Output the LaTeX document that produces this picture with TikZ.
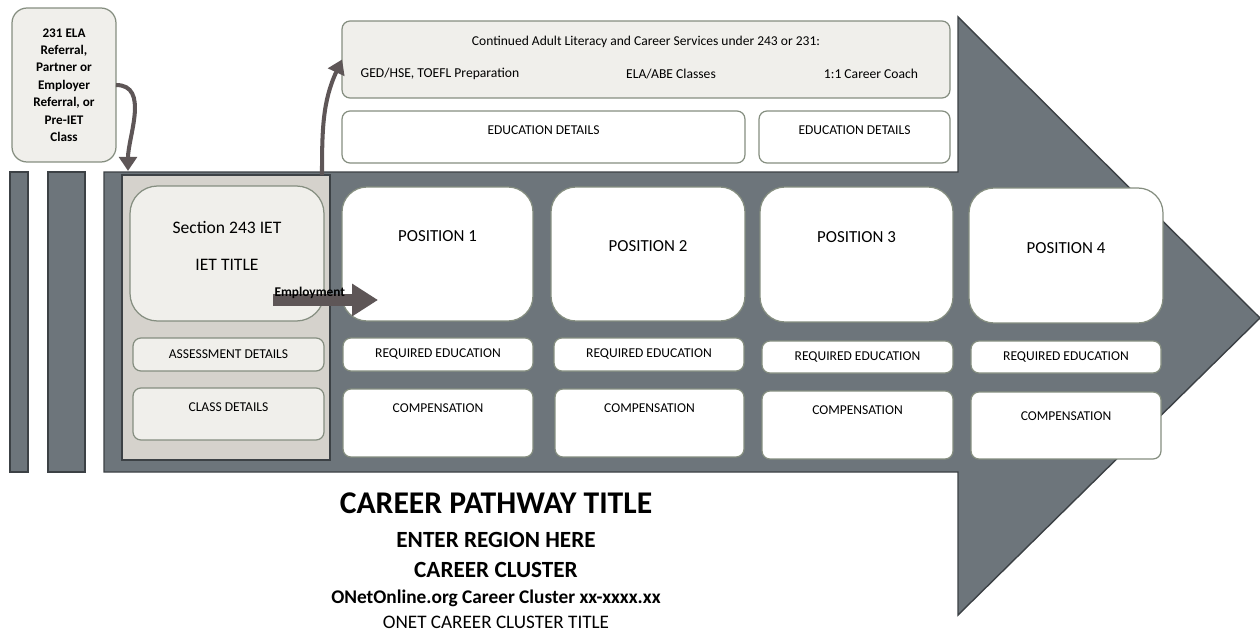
\documentclass[tikz,border=0pt]{standalone}
\usepackage{fontspec}
\setmainfont{Carlito}
\usetikzlibrary{arrows.meta}

\definecolor{arrowgray}{HTML}{6D757B}
\definecolor{arrowline}{HTML}{3C4145}
\definecolor{lightfill}{HTML}{F0EFEB}
\definecolor{boxline}{HTML}{858E80}
\definecolor{ietfill}{HTML}{D5D2CC}
\definecolor{connbrown}{HTML}{5E5657}

\begin{document}
\begin{tikzpicture}[x=0.02cm,y=-0.02cm,
    box/.style={draw=boxline,fill=white,line width=0.7pt,rounded corners=0.16cm,inner sep=0pt,outer sep=0pt},
    greybox/.style={box,fill=lightfill},
    posbox/.style={box,rounded corners=0.5cm},
    lbl/.style={anchor=center,font=\fontsize{7.7}{9}\selectfont},
    poslbl/.style={anchor=center,font=\fontsize{9.6}{11}\selectfont},
    conn/.style={draw=connbrown,line width=2.3pt,-{Triangle[length=8pt,width=10pt]}},
    emparrow/.style={draw=connbrown,line width=6.8pt,-{Triangle[length=0.52cm,width=0.62cm]}}
]

    \useasboundingbox (0,0) rectangle (1260,635);

    % big pathway arrow and the two bars
    \draw[fill=arrowgray,draw=arrowline,line width=0.8pt]
        (104,172) -- (958,172) -- (958,17) -- (1260,318) -- (958,615) -- (958,472) -- (104,472) -- cycle;
    \draw[fill=arrowgray,draw=arrowline,line width=0.8pt] (10,172) rectangle (28,472);
    \draw[fill=arrowgray,draw=arrowline,line width=0.8pt] (48,172) rectangle (85,472);

    % referral box
    \node[greybox,rounded corners=0.3cm,minimum width=2.08cm,minimum height=3.08cm,align=center,
          font=\bfseries\fontsize{7.5}{9.9}\selectfont] (refbox) at (64,85)
          {231 ELA\\Referral,\\Partner or\\Employer\\Referral, or\\Pre-IET\\Class};

    % IET section
    \node[draw=arrowline,fill=ietfill,line width=0.8pt,minimum width=4.16cm,minimum height=5.70cm,inner sep=0pt] (ietsec) at (226,317.5) {};
    \node[greybox,rounded corners=0.55cm,minimum width=3.88cm,minimum height=2.70cm,
          label={[anchor=center,font=\fontsize{10}{12}\selectfont,yshift=-0.82cm]north:Section 243 IET},
          label={[anchor=center,font=\fontsize{10}{12}\selectfont,yshift=-1.58cm]north:IET TITLE}] (ietbox) at (227,253.5) {};
    \node[greybox,minimum width=3.82cm,minimum height=0.66cm,font=\fontsize{7.7}{9}\selectfont] (assess) at (228.5,354.5) {ASSESSMENT DETAILS};
    \node[greybox,minimum width=3.82cm,minimum height=1.04cm,
          label={[lbl,yshift=-0.38cm]north:CLASS DETAILS}] (classd) at (228.5,414) {};

    % continued services
    \node[greybox,minimum width=12.16cm,minimum height=1.54cm,
          label={[lbl,yshift=-0.42cm]north:Continued Adult Literacy and Career Services under 243 or 231:}] (topbox) at (646,59.5) {};
    \node[font=\fontsize{7.75}{9}\selectfont] (ged) at (440,74) {GED/HSE, TOEFL Preparation};
    \node[font=\fontsize{7.75}{9}\selectfont] (elaabe) at (671,74) {ELA/ABE Classes};
    \node[font=\fontsize{7.75}{9}\selectfont] (coach) at (871,74) {1:1 Career Coach};

    \node[box,minimum width=8.06cm,minimum height=1.04cm,label={[lbl,yshift=-0.38cm]north:EDUCATION DETAILS}] (edu1) at (543.5,137) {};
    \node[box,minimum width=3.82cm,minimum height=1.04cm,label={[lbl,yshift=-0.38cm]north:EDUCATION DETAILS}] (edu2) at (854.5,137) {};

    % positions
    \node[posbox,minimum width=3.82cm,minimum height=2.68cm,label={[poslbl,yshift=-0.98cm]north:POSITION 1}] (pos1) at (437.5,254) {};
    \node[posbox,minimum width=3.88cm,minimum height=2.68cm,label={[poslbl,yshift=-1.18cm]north:POSITION 2}] (pos2) at (648,254) {};
    \node[posbox,minimum width=3.86cm,minimum height=2.70cm,label={[poslbl,yshift=-1.00cm]north:POSITION 3}] (pos3) at (856.5,254.5) {};
    \node[posbox,minimum width=3.88cm,minimum height=2.70cm,label={[poslbl,yshift=-1.20cm]north:POSITION 4}] (pos4) at (1066,255.5) {};

    \node[box,minimum width=3.80cm,minimum height=0.66cm,font=\fontsize{7.7}{9}\selectfont] (req1) at (438,354.5) {REQUIRED EDUCATION};
    \node[box,minimum width=3.80cm,minimum height=0.66cm,font=\fontsize{7.7}{9}\selectfont] (req2) at (649,354.5) {REQUIRED EDUCATION};
    \node[box,minimum width=3.82cm,minimum height=0.64cm,font=\fontsize{7.7}{9}\selectfont] (req3) at (857.5,357) {REQUIRED EDUCATION};
    \node[box,minimum width=3.80cm,minimum height=0.64cm,font=\fontsize{7.7}{9}\selectfont] (req4) at (1066,357) {REQUIRED EDUCATION};

    \node[box,minimum width=3.80cm,minimum height=1.36cm,label={[lbl,yshift=-0.38cm]north:COMPENSATION}] (comp1) at (438,423) {};
    \node[box,minimum width=3.78cm,minimum height=1.36cm,label={[lbl,yshift=-0.38cm]north:COMPENSATION}] (comp2) at (649.5,423) {};
    \node[box,minimum width=3.82cm,minimum height=1.36cm,label={[lbl,yshift=-0.38cm]north:COMPENSATION}] (comp3) at (857.5,425) {};
    \node[box,minimum width=3.80cm,minimum height=1.34cm,label={[lbl,yshift=-0.48cm]north:COMPENSATION}] (comp4) at (1066,425.5) {};

    % connectors
    \coordinate (ietin) at (128,171);
    \coordinate (ietout) at (322,175);
    \coordinate (empfrom) at (273,300);
    \coordinate (empto) at (378,300);

    \draw[conn] (refbox.east) to[out=0,in=90] (ietin);
    \draw[conn] (ietout) to[out=90,in=245] (topbox.west);
    \draw[emparrow] (empfrom) -- node[pos=0.35,above=-2.5pt,font=\bfseries\fontsize{7.6}{9}\selectfont,inner sep=0pt] (emplbl) {Employment} (empto);

    % titles
    \node[font=\bfseries\fontsize{18}{21}\selectfont] (pathtitle) at (496,503) {CAREER PATHWAY TITLE};
    \node[font=\bfseries\fontsize{13.2}{16}\selectfont] (region) at (496,540) {ENTER REGION HERE};
    \node[font=\bfseries\fontsize{13.2}{16}\selectfont] (cluster) at (496,570) {CAREER CLUSTER};
    \node[font=\bfseries\fontsize{11}{13}\selectfont] (onetcode) at (496,598) {ONetOnline.org Career Cluster xx-xxxx.xx};
    \node[font=\fontsize{10.9}{13}\selectfont] (onettitle) at (496,622) {ONET CAREER CLUSTER TITLE};

\end{tikzpicture}
\end{document}
